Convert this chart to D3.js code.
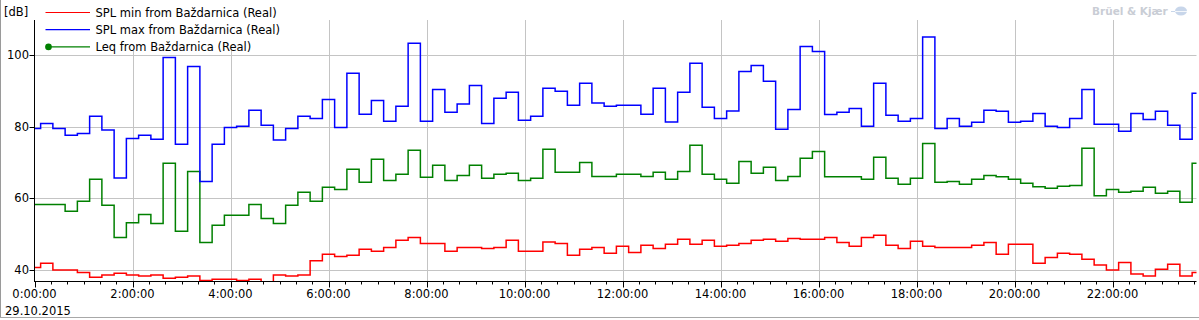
<!DOCTYPE html>
<html>
<head>
<meta charset="utf-8">
<title>Baždarnica SPL</title>
<script src="https://cdn.jsdelivr.net/npm/d3@7"></script>
<style>
  body { margin: 0; background: #fff; }
  svg text { font-family: "DejaVu Sans", Verdana, sans-serif; font-size: 11.5px; fill: #000; }
</style>
</head>
<body>
<div id="chart"></div>
<script>
// series, one value per 15 min interval (first one starts 7.5 min before midnight)
var splMin = [40.7, 41.9, 40.0, 40.0, 39.3, 38.0, 38.6, 39.1, 38.6, 38.3, 38.6, 37.7,
  38.0, 38.3, 37.1, 37.4, 37.4, 37.1, 37.4, 36.0, 38.6, 38.3, 38.6, 42.6,
  44.4, 43.8, 44.1, 45.8, 45.2, 46.3, 48.3, 49.1, 47.4, 47.4, 45.2, 46.3,
  46.3, 46.0, 46.3, 48.3, 45.2, 45.2, 47.8, 47.4, 44.1, 45.8, 46.3, 44.7,
  46.6, 44.9, 46.9, 46.0, 47.2, 48.6, 47.2, 48.3, 46.6, 46.9, 47.4, 48.3,
  48.6, 48.0, 48.8, 48.6, 48.6, 49.1, 47.7, 46.6, 49.1, 49.7, 46.9, 46.0,
  48.0, 46.6, 46.3, 46.3, 46.3, 46.9, 47.7, 44.4, 47.2, 47.2, 41.9, 43.5,
  44.7, 44.4, 43.0, 41.4, 40.0, 42.1, 38.9, 38.3, 40.2, 41.6, 38.3, 39.3];
var splMax = [79.5, 80.9, 79.5, 77.6, 78.1, 82.9, 79.1, 65.7, 76.7, 77.6, 76.5, 99.3,
  75.1, 96.8, 64.7, 75.1, 79.8, 80.1, 84.6, 80.4, 76.3, 79.5, 82.9, 82.3,
  87.6, 79.8, 94.9, 83.5, 87.3, 81.5, 85.7, 103.3, 81.5, 90.4, 84.0, 86.3,
  91.5, 80.9, 87.9, 89.6, 81.8, 82.9, 90.7, 89.9, 86.0, 92.1, 86.6, 85.7,
  86.0, 86.0, 83.5, 90.7, 81.3, 89.6, 97.7, 85.4, 82.3, 84.4, 95.4, 97.1,
  92.7, 79.3, 84.8, 102.4, 101.0, 83.4, 84.0, 85.1, 80.1, 92.1, 83.2, 81.5,
  82.3, 105.0, 79.5, 82.3, 80.1, 81.2, 84.6, 84.3, 81.2, 81.5, 83.7, 80.1,
  79.8, 82.3, 90.4, 80.7, 80.7, 78.7, 83.7, 82.0, 84.3, 80.4, 76.5, 89.3];
var leq = [58.3, 58.3, 58.3, 56.4, 59.2, 65.3, 58.1, 49.1, 53.2, 55.5, 53.0, 69.8,
  50.8, 67.5, 47.7, 52.5, 55.3, 55.3, 58.3, 54.4, 53.0, 58.1, 61.7, 59.2,
  63.1, 62.5, 68.1, 64.5, 70.9, 65.0, 66.7, 73.4, 65.9, 69.2, 65.0, 66.4,
  69.2, 65.6, 66.7, 67.0, 65.0, 65.6, 73.7, 67.3, 67.3, 70.0, 66.1, 66.1,
  66.7, 66.7, 66.1, 67.3, 65.3, 67.5, 74.8, 66.7, 65.3, 64.2, 70.3, 67.0,
  68.7, 65.0, 66.1, 71.2, 73.1, 66.0, 66.0, 66.0, 65.3, 71.5, 65.6, 63.9,
  65.6, 75.3, 64.5, 64.7, 63.9, 65.3, 66.4, 66.0, 65.3, 64.2, 63.2, 62.8,
  63.4, 63.6, 74.0, 60.7, 62.5, 61.7, 62.0, 63.1, 61.4, 62.0, 58.9, 69.8];

var seriesNames = ["SPL min from Baždarnica (Real)", "SPL max from Baždarnica (Real)", "Leq from Baždarnica (Real)"];
var seriesColors = ["#ff0000", "#0000ff", "#008000"];
var firstInterval = "2015-10-28 23:52:30";
var intervalMinutes = 15;
var axisStart = "2015-10-29 00:00:00";
var axisEnd = "2015-10-29 23:42:50";
var yTicks = [40, 60, 80, 100];
var yLabel = "[dB]";
var dateLabel = "29.10.2015";

var W = 1199, H = 320;
var pLeft = 34.5, pRight = 1196.5, pTop = 20, pBottom = 281.5;

var parse = d3.timeParse("%Y-%m-%d %H:%M:%S");
var t0 = parse(firstInterval);

var x = d3.scaleTime().domain([parse(axisStart), parse(axisEnd)]).range([pLeft, pRight]);
var y = d3.scaleLinear().domain([36.93, 109.77]).range([281, 20]);

var svg = d3.select("#chart").append("svg").attr("width", W).attr("height", H);

svg.append("defs").append("clipPath").attr("id", "plot")
  .append("rect").attr("x", pLeft).attr("y", pTop).attr("width", pRight - pLeft).attr("height", pBottom - pTop);

// grid
var majorT = x.ticks(d3.timeHour.every(2));
var minorT = x.ticks(d3.timeMinute.every(20));
var grid = svg.append("g").attr("stroke", "#c4c4c4").attr("stroke-width", 1);
grid.selectAll(".gv").data(majorT.slice(1)).enter().append("line")
  .attr("x1", function (d) { return Math.round(x(d)) + 0.5; })
  .attr("x2", function (d) { return Math.round(x(d)) + 0.5; })
  .attr("y1", pTop).attr("y2", pBottom);
grid.selectAll(".gh").data(yTicks).enter().append("line")
  .attr("x1", pLeft).attr("x2", pRight)
  .attr("y1", function (d) { return Math.round(y(d)) + 0.5; })
  .attr("y2", function (d) { return Math.round(y(d)) + 0.5; });

// step lines
var line = d3.line()
  .x(function (d) { return x(d.t); })
  .y(function (d) { return y(d.v); })
  .curve(d3.curveStepAfter);

function toPoints(vals) {
  var pts = vals.map(function (v, i) { return { t: d3.timeMinute.offset(t0, i * intervalMinutes), v: v }; });
  pts.push({ t: d3.timeMinute.offset(t0, vals.length * intervalMinutes), v: vals[vals.length - 1] });
  return pts;
}

var plot = svg.append("g").attr("clip-path", "url(#plot)");
[[leq, 2], [splMax, 1], [splMin, 0]].forEach(function (s) {
  plot.append("path").datum(toPoints(s[0]))
    .attr("fill", "none")
    .attr("stroke", seriesColors[s[1]])
    .attr("stroke-width", 1.5)
    .attr("d", line);
});

// axes
svg.append("line").attr("x1", pLeft).attr("x2", pLeft).attr("y1", pTop).attr("y2", pBottom + 0.5)
  .attr("stroke", "#000");
svg.append("line").attr("x1", pLeft).attr("x2", pRight).attr("y1", pBottom).attr("y2", pBottom)
  .attr("stroke", "#000");

svg.append("g").selectAll("line").data(minorT).enter().append("line")
  .attr("x1", function (d) { return Math.round(x(d)) + 0.5; })
  .attr("x2", function (d) { return Math.round(x(d)) + 0.5; })
  .attr("y1", pBottom).attr("y2", function (d) { return d.getMinutes() === 0 && d.getHours() % 2 === 0 ? pBottom + 6 : pBottom + 3; })
  .attr("stroke", "#000");

var fmt = d3.timeFormat("%-H:%M:%S");
svg.append("g").selectAll("text").data(majorT).enter().append("text")
  .attr("x", function (d) { return x(d); })
  .attr("y", 297.5)
  .attr("text-anchor", "middle")
  .text(function (d) { return fmt(d); });

svg.append("text").attr("x", 5).attr("y", 315).text(dateLabel);

svg.append("g").selectAll("line").data(yTicks).enter().append("line")
  .attr("x1", pLeft - 5).attr("x2", pLeft)
  .attr("y1", function (d) { return Math.round(y(d)) + 0.5; })
  .attr("y2", function (d) { return Math.round(y(d)) + 0.5; })
  .attr("stroke", "#000");
svg.append("g").selectAll("text").data(yTicks).enter().append("text")
  .attr("x", 29).attr("y", function (d) { return y(d) + 4; })
  .attr("text-anchor", "end")
  .text(function (d) { return d; });

svg.append("text").attr("x", 4).attr("y", 16).text(yLabel);

// legend
var lg = svg.append("g");
lg.append("rect").attr("x", 36).attr("y", pTop).attr("width", 246).attr("height", 30).attr("fill", "#fff");
seriesNames.forEach(function (name, i) {
  var ly = 12.5 + i * 17.2;
  lg.append("line").attr("x1", 45.5).attr("x2", 90).attr("y1", ly).attr("y2", ly)
    .attr("stroke", seriesColors[i]).attr("stroke-width", 1.2);
  if (i === 2) lg.append("circle").attr("cx", 48.5).attr("cy", ly).attr("r", 3.3).attr("fill", seriesColors[i]);
  lg.append("text").attr("x", 95.5).attr("y", ly + 4).text(name);
});

// logo
svg.append("text").attr("x", 1092).attr("y", 15).attr("font-weight", "bold")
  .style("font-size", "10.5px").style("fill", "#c9cdd5").text("Brüel & Kjær");
svg.append("ellipse").attr("cx", 1181).attr("cy", 11).attr("rx", 6).attr("ry", 4.5).attr("fill", "#c8d6ea");
svg.append("line").attr("x1", 1171).attr("x2", 1175).attr("y1", 11.5).attr("y2", 11.5).attr("stroke", "#c8d6ea");
svg.append("line").attr("x1", 1175).attr("x2", 1187).attr("y1", 11.5).attr("y2", 11.5).attr("stroke", "#fff").attr("stroke-width", 0.8);

// frame
svg.append("line").attr("x1", 0.5).attr("x2", 0.5).attr("y1", 0).attr("y2", 318).attr("stroke", "#9a9a9a");
svg.append("line").attr("x1", 0).attr("x2", W).attr("y1", 317.5).attr("y2", 317.5).attr("stroke", "#a8a8a8");
</script>
</body>
</html>
